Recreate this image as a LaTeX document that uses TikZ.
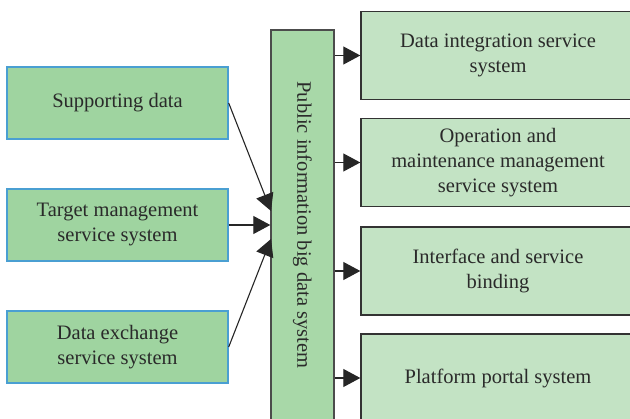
\documentclass[tikz,border=0pt]{standalone}
\usepackage{fontspec}
\setmainfont{Liberation Serif}
\usetikzlibrary{arrows.meta}
\definecolor{leftfill}{HTML}{9FD4A0}
\definecolor{leftline}{HTML}{4A9FD2}
\definecolor{midfill}{HTML}{A8D8A8}
\definecolor{rightfill}{HTML}{C3E3C4}
\definecolor{textcol}{HTML}{2A2A2A}
\tikzset{
  base/.style={rectangle, align=center, inner sep=0pt, text=textcol,
    font=\fontsize{20.5}{25}\selectfont},
  leftbox/.style={base, draw=leftline, fill=leftfill, line width=1.4pt,
    minimum width=221pt, minimum height=72pt},
  midbox/.style={base, draw=black!70, fill=midfill, line width=1.4pt,
    minimum width=63pt, minimum height=390pt},
  rightbox/.style={base, draw=black!80, fill=rightfill, line width=1.4pt,
    minimum width=274pt, minimum height=88pt},
  conn/.style={draw=black!85, line width=1.1pt,
    -{Triangle[length=17pt,width=18pt]}}
}
\begin{document}
\begin{tikzpicture}[x=1pt,y=-1pt]
\useasboundingbox (0,0) rectangle (630,419);
\clip (0,0) rectangle (630,419);
\fill[white] (0,0) rectangle (630,419);
% left boxes
\node[leftbox] (sup) at (117.5,103) {Supporting data};
\node[leftbox] (tgt) at (117.5,225) {Target management\\service system};
\node[leftbox] (dex) at (117.5,347) {Data exchange\\service system};
% middle box
\node[midbox] (pub) at (302.5,225) {};
\node[base, rotate=-90] (publabel) at (pub.center) {Public information big data system};
% right boxes
\node[rightbox] (dis) at (498,55.5) {Data integration service\\system};
\node[rightbox] (oms) at (498,162.5) {Operation and\\maintenance management\\service system};
\node[rightbox] (isb) at (498,271) {Interface and service\\binding};
\node[rightbox] (pps) at (498,378) {Platform portal system};
% input points on middle box
\coordinate (in1) at (271,211);
\coordinate (in3) at (271,239);
% connectors
\draw[conn] (sup.east) -- (in1);
\draw[conn] (tgt.east) -- (pub.west |- tgt.east);
\draw[conn] (dex.east) -- (in3);
\draw[conn] (pub.east |- dis.west) -- (dis.west);
\draw[conn] (pub.east |- oms.west) -- (oms.west);
\draw[conn] (pub.east |- isb.west) -- (isb.west);
\draw[conn] (pub.east |- pps.west) -- (pps.west);
\end{tikzpicture}
\end{document}
